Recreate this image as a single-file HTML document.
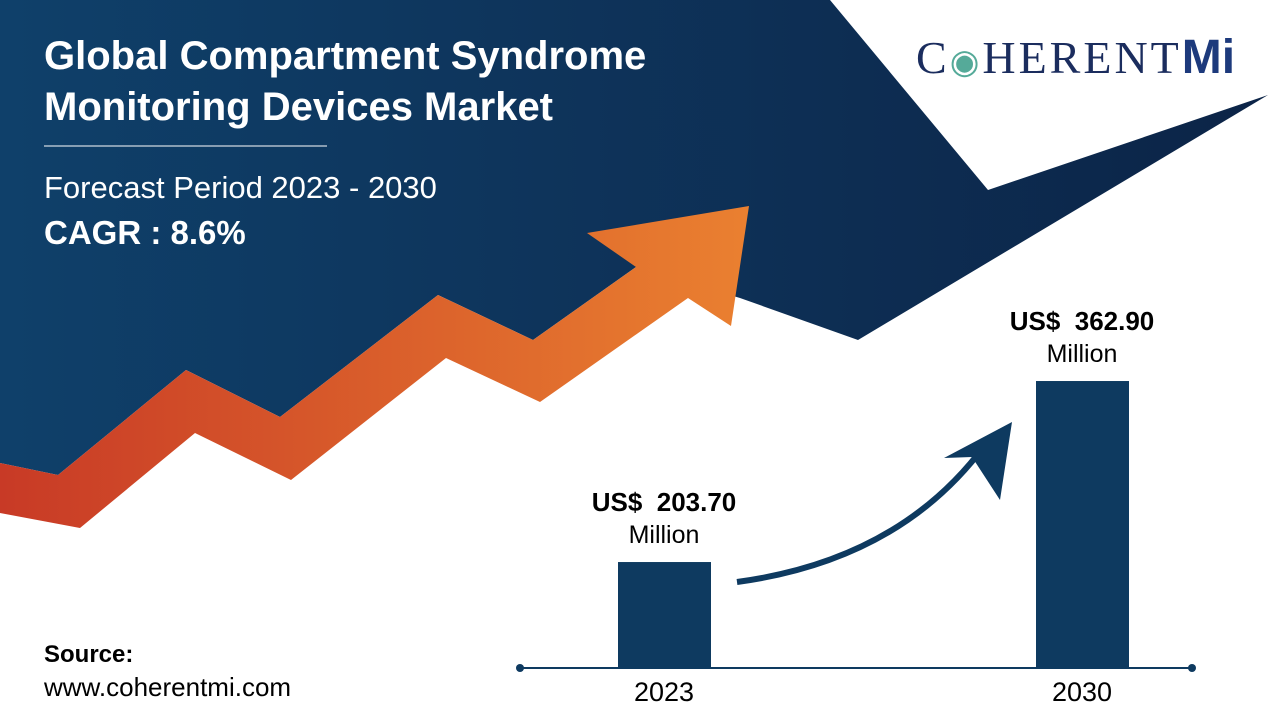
<!DOCTYPE html>
<html><head><meta charset="utf-8"><style>
body{margin:0;width:1280px;height:720px;overflow:hidden;background:#fff;font-family:"Liberation Sans",sans-serif;position:relative}
.t{position:absolute;margin:0;white-space:nowrap}
</style></head><body>
<svg width="1280" height="720" style="position:absolute;left:0;top:0">
<defs>
<linearGradient id="bg" x1="0" x2="1"><stop offset="0" stop-color="#0f406a"/><stop offset="1" stop-color="#0c2447"/></linearGradient>
<linearGradient id="og" x1="0" x2="1"><stop offset="0" stop-color="#c83a26"/><stop offset="1" stop-color="#ea8030"/></linearGradient>
</defs>
<polygon fill="url(#bg)" points="0,0 830,0 988,190 1268,95 858,340 740,298 636,267 533,340 438,295 280,417 186,370 58,475 0,463"/>
<polygon fill="url(#og)" points="0,463 58,475 186,370 280,417 438,295 533,340 636,267 587,233 749,206 731,326 688,298 540,402 446,358 291,480 195,433 80,528 0,513"/>
<line x1="44" y1="146" x2="327" y2="146" stroke="#fff" stroke-width="1"/>
<line x1="520" y1="668" x2="1192" y2="668" stroke="#0e3a60" stroke-width="2"/>
<circle cx="520" cy="668" r="4" fill="#0e3a60"/>
<circle cx="1192" cy="668" r="4" fill="#0e3a60"/>
<path d="M737,582 Q900,560 985,445" stroke="#0e3a60" stroke-width="6" fill="none"/>
<polygon points="1012,422 944,458 972,457 1000,500" fill="#0e3a60"/>
<g id="bars"></g>
</svg>
<p class="t" style="left:44px;top:31px;font-size:40px;font-weight:bold;color:#fff;line-height:51px">Global Compartment Syndrome<br>Monitoring Devices Market</p>
<p class="t" style="left:44px;top:170px;font-size:31px;color:#fff">Forecast Period 2023 - 2030</p>
<p class="t" style="left:44px;top:214px;font-size:33px;font-weight:bold;color:#fff">CAGR : 8.6%</p>
<div class="t" style="left:916px;top:30px;font-family:'Liberation Serif',serif;font-size:46px;color:#1b2d5e;letter-spacing:3px">C<span style="color:#5a9;font-size:34px">&#9673;</span>HERENT<span style="font-family:'Liberation Sans';font-weight:bold;font-size:48px;color:#1d3a7c;letter-spacing:0">Mi</span></div>
<p class="t" style="left:44px;top:641px;font-size:24px;font-weight:bold;color:#000">Source:</p>
<p class="t" style="left:44px;top:672px;font-size:26px;color:#000">www.coherentmi.com</p>
<div id="labels"></div>
<script>
const years=["2023","2030"];
const values=[203.70,362.90];
const valueLabels=["US$  203.70","US$  362.90"];
const svg=document.getElementById('bars');
const lab=document.getElementById('labels');
const xCenter=i=>664+i*418;
const base=668;
const yScale=v=>base-(v-110.5)*1.137;
years.forEach((y,i)=>{
 const top=yScale(values[i]);
 const r=document.createElementNS('http://www.w3.org/2000/svg','rect');
 r.setAttribute('x',xCenter(i)-46);r.setAttribute('y',top);
 r.setAttribute('width',93);r.setAttribute('height',base-top);
 r.setAttribute('fill','#0e3a60');
 
 
 svg.appendChild(r);
 const v=document.createElement('div');
 v.className='t';
 v.style.cssText=`left:${xCenter(i)-100}px;width:200px;text-align:center;top:${top-76}px;font-size:25px;line-height:32px;color:#000`;
 v.innerHTML='<b style="white-space:pre;font-size:26px">'+valueLabels[i]+'</b><br>Million';
 
 
 lab.appendChild(v);
 const t=document.createElement('div');
 t.className='t';
 t.style.cssText=`left:${xCenter(i)-60}px;width:120px;text-align:center;top:677px;font-size:27px;color:#000`;
 t.textContent=y;
 
 
 lab.appendChild(t);
});
</script>
</body></html>
